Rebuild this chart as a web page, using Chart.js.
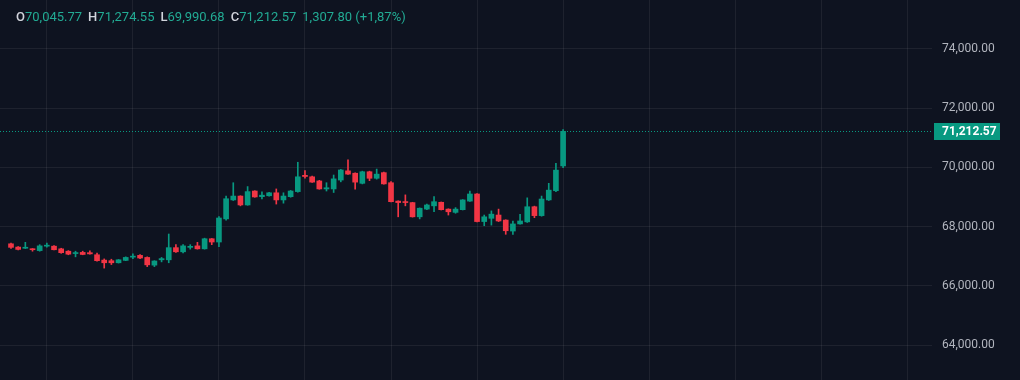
<!DOCTYPE html>
<html>
<head>
<meta charset="utf-8">
<script src="https://cdn.jsdelivr.net/npm/chart.js@4.4.1/dist/chart.umd.min.js"></script>
<style>
  html, body { margin: 0; padding: 0; background: #0e1320; }
  #wrap { position: relative; width: 1020px; height: 380px; overflow: hidden; }
  #hdr { position: absolute; left: 16px; top: 9px; font-family: Roboto, "Liberation Sans", sans-serif; font-size: 13px; color: #22ab94; white-space: nowrap; letter-spacing: 0; }
  #hdr .k { color: #d1d4dc; font-weight: 500; }
  #hdr .g { margin-right: 6px; }
  canvas { position: absolute; left: 0; top: 0; }
</style>
</head>
<body>
<div id="wrap">
  <canvas id="c" width="1020" height="380"></canvas>
  <div id="hdr"></div>
</div>
<script>
// ---- data (candle index, OHLC) ----
const openV  = [67420,67310,67270,67250,67190,67340,67340,67250,67170,67090,67130,67120,67050,66870,66850,66780,66860,66970,67030,66960,
                66700,66880,66880,67290,67150,67300,67350,67250,67590,67480,68260,68900,69030,68730,69200,69010,69040,69140,68900,69010,
                69180,69730,69680,69540,69270,69270,69570,69880,69800,69460,69850,69630,69820,69480,68860,68840,68810,68330,68590,68700,
                68820,68590,68480,68570,68860,69100,68170,68280,68390,68220,67850,68090,68160,68670,68370,68900,69210,70045.77];
const highV  = [67440,67330,67470,67260,67390,67440,67360,67270,67190,67170,67170,67180,67110,66910,66900,66890,66980,67080,67060,66980,
                66850,66960,67750,67390,67390,67390,67470,67610,67600,68340,69030,69480,69040,69350,69210,69170,69160,69270,69140,69220,
                70170,69890,69700,69560,69480,69740,69930,70250,69810,69870,69870,69940,69840,69520,68870,69070,68820,68630,68760,69010,
                68830,68600,68640,68910,69200,69110,68390,68530,68590,68230,68190,68410,68970,68690,69030,69460,70130,71274.55];
const lowV   = [67260,67210,67260,67170,67170,67310,67210,67100,67050,66980,67050,67070,66830,66600,66720,66770,66850,66920,66920,66650,
                66650,66810,66780,67130,67110,67240,67240,67240,67390,67320,68220,68880,68700,68720,68990,68930,69030,68760,68790,68990,
                69160,69630,69490,69260,69200,69150,69510,69760,69260,69440,69550,69600,69430,68830,68330,68700,68320,68260,68570,68500,
                68560,68390,68450,68560,68850,68160,68030,68050,68170,67740,67740,68080,68140,68300,68350,68880,69180,69990.68];
const closeV = [67300,67230,67300,67220,67350,67370,67220,67120,67070,67120,67060,67080,66850,66780,66780,66880,66960,67000,66940,66710,
                66840,66920,67290,67150,67350,67330,67250,67590,67480,68290,68940,69030,68730,69180,69000,69060,69140,68900,69030,69200,
                69680,69690,69500,69270,69310,69610,69910,69770,69500,69850,69630,69770,69440,68840,68810,68810,68330,68620,68730,68840,
                68570,68500,68590,68900,69100,68170,68330,68420,68190,67860,68090,68190,68670,68370,68930,69230,69904.77,71212.57];
const yTicks = [64000, 66000, 68000, 70000, 72000, 74000];

// ---- styles ----
const UP = '#089981', DOWN = '#f23645';
const GRID = 'rgba(255,255,255,0.065)';
const fmt = v => v.toLocaleString('en-US', { minimumFractionDigits: 2, maximumFractionDigits: 2 });

const n = closeV.length;
const idx = closeV.map((_, i) => i);
const isUp = i => closeV[i] >= openV[i];
const colorOf = ctx => isUp(ctx.dataIndex) ? UP : DOWN;

// header
(function () {
  const last = n - 1;
  const chg = closeV[last] - closeV[last - 1];
  const pct = (chg / closeV[last - 1] * 100).toFixed(2).replace('.', ',');
  const h = document.getElementById('hdr');
  h.innerHTML =
    '<span class="g"><span class="k">O</span>' + fmt(openV[last]) + '</span>' +
    '<span class="g"><span class="k">H</span>' + fmt(highV[last]) + '</span>' +
    '<span class="g"><span class="k">L</span>' + fmt(lowV[last]) + '</span>' +
    '<span class="g"><span class="k">C</span>' + fmt(closeV[last]) + '</span>' +
    '<span>' + fmt(chg) + ' (' + (chg >= 0 ? '+' : '') + pct + '%)</span>';
})();

const priceLine = {
  id: 'priceLine',
  afterDraw(chart) {
    const ctx = chart.ctx, y = chart.scales.y, area = chart.chartArea;
    const last = closeV[n - 1];
    const py = Math.round(y.getPixelForValue(last)) + 0.5;
    ctx.save();
    ctx.strokeStyle = UP;
    ctx.lineWidth = 1;
    ctx.setLineDash([1, 2]);
    ctx.beginPath();
    ctx.moveTo(area.left, py);
    ctx.lineTo(area.right, py);
    ctx.stroke();
    ctx.setLineDash([]);
    const bx = area.right + 2, bw = 66, bh = 17;
    ctx.fillStyle = UP;
    ctx.fillRect(bx, Math.round(py - bh / 2), bw, bh);
    ctx.fillStyle = '#ffffff';
    ctx.font = 'bold 12px Roboto, "Liberation Sans", sans-serif';
    ctx.textBaseline = 'middle';
    ctx.textAlign = 'left';
    ctx.fillText(fmt(last), area.right + 10, py + 0.5);
    ctx.restore();
  }
};

const noPad = s => { s.paddingTop = 0; s.paddingBottom = 0; s.paddingLeft = 0; s.paddingRight = 0; };

new Chart(document.getElementById('c'), {
  type: 'bar',
  data: {
    datasets: [
      {
        label: 'wick',
        data: idx.map(i => ({ x: i, y: [lowV[i], highV[i]] })),
        backgroundColor: colorOf,
        barThickness: 1,
        minBarLength: 1,
        grouped: false,
        borderWidth: 0
      },
      {
        label: 'body',
        data: idx.map(i => ({ x: i, y: [openV[i], closeV[i]] })),
        backgroundColor: colorOf,
        barThickness: 5,
        minBarLength: 1,
        grouped: false,
        borderWidth: 0
      }
    ]
  },
  options: {
    responsive: false,
    animation: false,
    devicePixelRatio: 1,
    layout: { padding: 0 },
    plugins: { legend: { display: false }, tooltip: { enabled: false } },
    scales: {
      x: {
        type: 'linear',
        offset: false,
        min: -1.534,
        max: 128.45,
        grid: { color: GRID, offset: false, drawTicks: false },
        border: { display: false },
        ticks: { display: false, padding: 0 },
        afterBuildTicks: s => { s.ticks = []; for (let v = 5; v <= s.max; v += 12) s.ticks.push({ value: v }); },
        afterFit: s => { s.height = 0; noPad(s); }
      },
      y: {
        position: 'right',
        min: 62826,
        max: 75643,
        grid: { color: GRID, drawTicks: false },
        border: { display: false },
        ticks: {
          color: '#b2b5be',
          padding: 10,
          font: { family: 'Roboto, "Liberation Sans", sans-serif', size: 12 },
          callback: v => fmt(v)
        },
        afterBuildTicks: s => { s.ticks = yTicks.map(v => ({ value: v })); },
        afterFit: s => { s.width = 88; noPad(s); }
      }
    }
  },
  plugins: [priceLine]
});
</script>
</body>
</html>
